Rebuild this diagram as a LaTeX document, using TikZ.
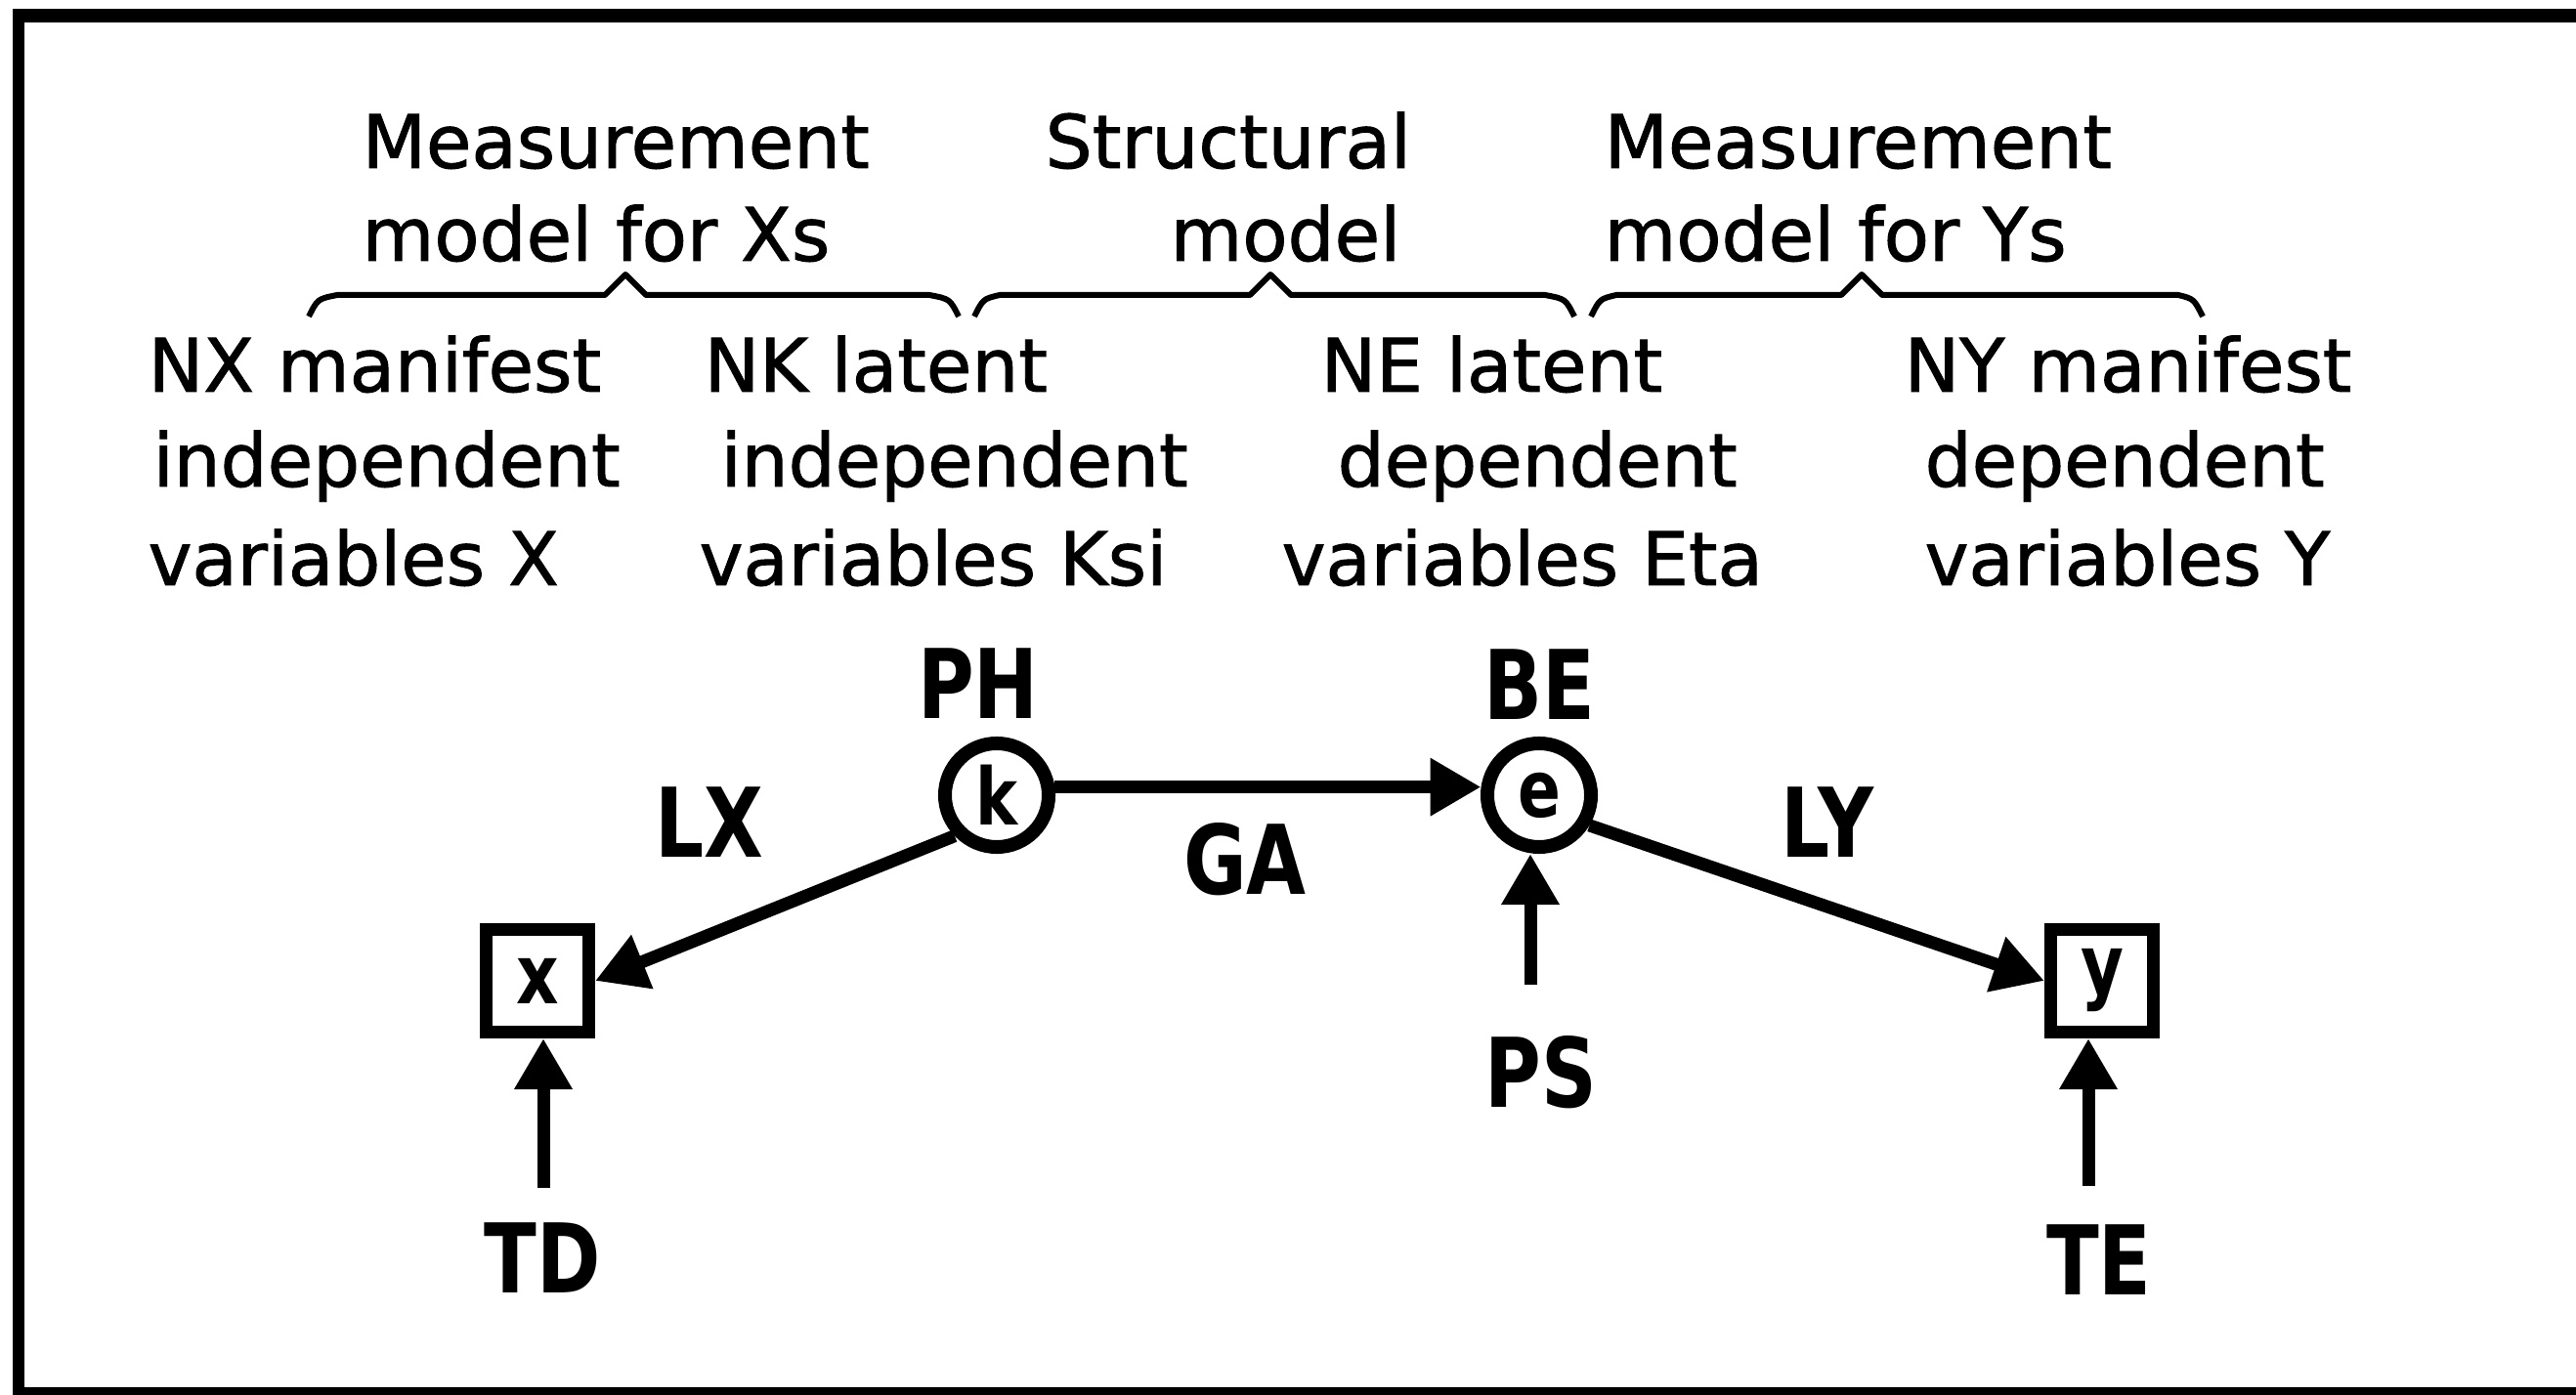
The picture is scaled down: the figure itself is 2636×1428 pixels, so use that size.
\documentclass[tikz,border=0pt]{standalone}
\usepackage{fontspec}
\setmainfont{DejaVu Sans}[FakeBold=1.2]
\newfontfamily\lblfont[FakeStretch=0.8]{DejaVu Sans Bold}
\usetikzlibrary{arrows.meta}
\begin{document}
\begin{tikzpicture}[x=0.01cm,y=-0.01cm,
  body/.style={anchor=base west, inner sep=0pt, font=\fontsize{21.5pt}{26pt}\selectfont},
  lbl/.style={anchor=base, inner sep=0pt, font=\lblfont\fontsize{28pt}{32pt}\selectfont},
  latent/.style={circle, draw, line width=0.14cm, minimum size=1.06cm, inner sep=0pt, font=\lblfont\fontsize{23pt}{26pt}\selectfont},
  manifest/.style={rectangle, draw, line width=0.13cm, minimum size=1.05cm, inner sep=0pt, font=\lblfont\fontsize{24pt}{26pt}\selectfont},
  arr/.style={line width=0.13cm, -{Triangle[length=0.52cm,width=0.56cm]}},
  brace/.style={line width=0.06cm, line join=round}
]
\useasboundingbox (0,0) rectangle (2636,1428);
% frame
\draw[line width=0.12cm] (19,16) -- (19,1440);
\draw[line width=0.14cm] (13,16) -- (2650,16);
\draw[line width=0.10cm] (13,1425) -- (2650,1425);

% top titles
\node[body] (mx1) at (370,172) {Measurement};
\node[body] (mx2) at (370,267) {model for Xs};
\node[body] (st1) at (1069,172) {Structural};
\node[body] (st2) at (1197,267) {model};
\node[body] (my1) at (1641,172) {Measurement};
\node[body] (my2) at (1641,267) {model for Ys};

% braces
\draw[brace] (316,324) .. controls (325,306) .. (345,302) -- (619,302) -- (640,281) -- (661,302) -- (951,302) .. controls (972,306) .. (981,324);
\draw[brace] (997,324) .. controls (1006,306) .. (1023,302) -- (1279,302) -- (1300,281) -- (1321,302) -- (1581,302) .. controls (1602,306) .. (1611,324);
\draw[brace] (1628,324) .. controls (1637,306) .. (1654,302) -- (1884,302) -- (1905,281) -- (1926,302) -- (2229,302) .. controls (2245,306) .. (2254,324);

% second row
\node[body] (a1) at (151,401) {NX manifest};
\node[body] (a2) at (156,498) {independent};
\node[body] (a3) at (151,599) {variables X};
\node[body] (b1) at (720,401) {NK latent};
\node[body] (b2) at (737,498) {independent};
\node[body] (b3) at (715,599) {variables Ksi};
\node[body] (c1) at (1351,401) {NE latent};
\node[body] (c2) at (1368,498) {dependent};
\node[body] (c3) at (1311,599) {variables Eta};
\node[body] (d1) at (1948,401) {NY manifest};
\node[body] (d2) at (1969,498) {dependent};
\node[body] (d3) at (1969,599) {variables Y};

% model nodes
\node[latent] (k) at (1020,814) {k};
\node[latent] (e) at (1575,814) {e};
\node[manifest] (xb) at (550,1004) {x};
\node[manifest] (yb) at (2151,1004) {y};

% labels
\node[lbl] (ph) at (1001,736) {PH};
\node[lbl] (be) at (1575,737) {BE};
\node[lbl] (lx) at (726,877) {LX};
\node[lbl] (ga) at (1274,915) {GA};
\node[lbl] (ly) at (1870,877) {LY};
\node[lbl] (ps) at (1577,1133) {PS};
\node[lbl] (td) at (555,1323) {TD};
\node[lbl] (te) at (2148,1325) {TE};

% tails of error arrows
\coordinate (tdt) at (556,1216);
\coordinate (pst) at (1566,1008);
\coordinate (tet) at (2137,1214);

% connectors
\draw[arr] (k.224) -- (xb.east);
\draw[arr] (k.8) -- (e.172);
\draw[arr] (e.-31) -- (yb.west);
\draw[arr] (tdt) -- (xb.south -| tdt);
\draw[arr] (pst) -- (e.south -| pst);
\draw[arr] (tet) -- (yb.south -| tet);
\end{tikzpicture}
\end{document}
